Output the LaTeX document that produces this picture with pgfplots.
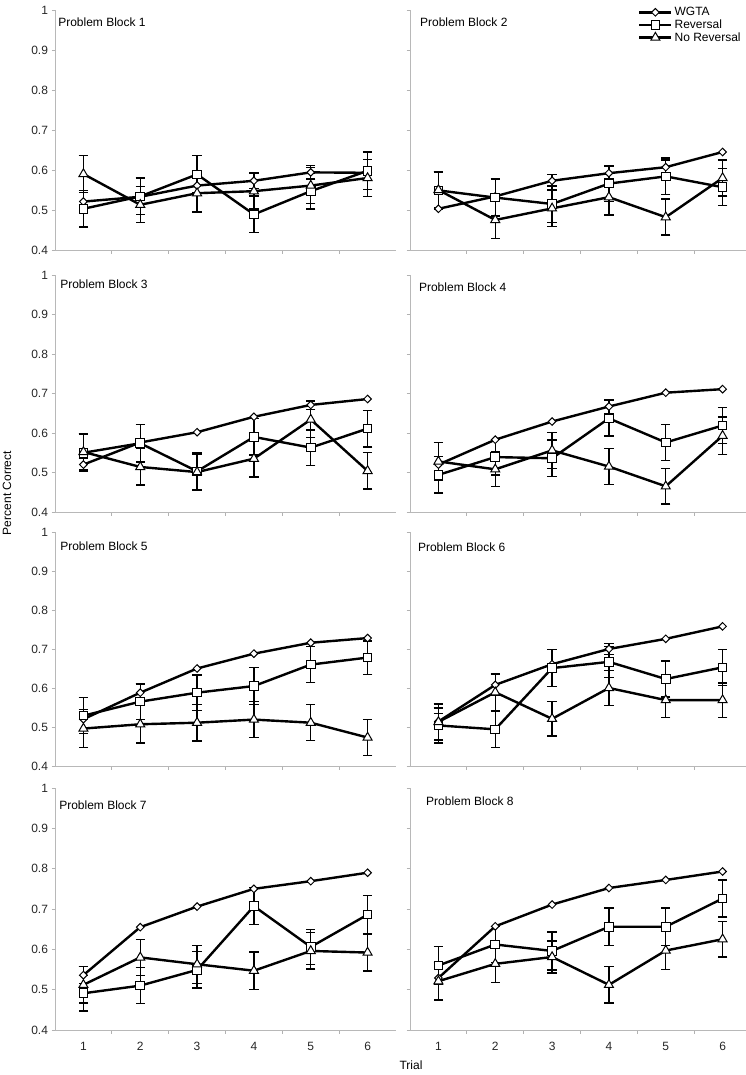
\documentclass[border=0pt]{standalone}
\usepackage{fontspec}
\setmainfont{Liberation Sans}
\usepackage{pgfplots}
\pgfplotsset{compat=1.18}
\newcommand{\lab}{\fontsize{12}{14}\selectfont}
\pgfplotsset{
  panel/.style={
    scale only axis, width=341pt,
    xmin=0.5, xmax=6.5, ymin=0.4, ymax=1,
    axis x line=bottom, axis y line=left,
    axis line style={-, draw=black!28, line width=0.8pt},
    xtick={1,2,3,4,5,6}, xticklabels={},
    minor xtick={1.5,2.5,3.5,4.5,5.5},
    ytick={0.4,0.5,0.6,0.7,0.8,0.9,1},
    yticklabels={},
    tick align=outside,
    major tick length=3.5pt, minor tick length=4pt,
    tick style={draw=black!30, line width=0.7pt},
    major x tick style={draw=none},
    minor tick style={draw=black!30, line width=0.7pt},
    ticklabel style={font=\lab, text=black!85},
    /pgf/number format/assume math mode=true,
    clip=false,
    legend image code/.code={\draw[mark repeat=2,mark phase=2,##1] plot coordinates {(0pt,0pt) (16pt,0pt) (32pt,0pt)};},
  },
  leftcol/.style={yticklabels={0.4,0.5,0.6,0.7,0.8,0.9,1}},
  bottomrow/.style={xticklabels={1,2,3,4,5,6}, xticklabel style={yshift=-5pt}},
  errb/.style={error bars/.cd, y dir=both, y explicit,
    error bar style={line width=1.4pt, black, solid},
    error mark options={rotate=90, mark size=4.7pt, line width=1.4pt, black}},
  sW/.style={black, line width=2.4pt, mark=square*, mark size=2.7pt,
    mark options={rotate=45, solid, fill=white, draw=black, line width=1pt}},
  sR/.style={black, line width=2.4pt, mark=square*, mark size=4.3pt,
    mark options={solid, fill=white, draw=black, line width=1pt}},
  sN/.style={black, line width=2.4pt, mark=triangle*, mark size=5.2pt,
    mark options={solid, fill=white, draw=black, line width=1pt}},
  eW/.style={only marks, mark=none, forget plot, errb},
}
\begin{document}
\begin{tikzpicture}
\useasboundingbox (0pt,0pt) rectangle (745pt,1075pt);

% ---------------- Problem Block 1 ----------------
\begin{axis}[panel, leftcol, at={(55pt,825pt)}, anchor=south west, height=240pt]
\addplot[eW] table[y error=e] {
x y e
4 0.573 0.02
5 0.594 0.017
};
\addplot[sW] table {
x y
1 0.521
2 0.533
3 0.561
4 0.573
5 0.594
6 0.593
};
\addplot[sR, errb] table[y error=e] {
x y e
1 0.503 0.046
2 0.534 0.046
3 0.589 0.047
4 0.489 0.046
5 0.547 0.045
6 0.598 0.047
};
\addplot[sN, errb] table[y error=e] {
x y e
1 0.590 0.046
2 0.513 0.045
3 0.542 0.047
4 0.547 0.045
5 0.561 0.045
6 0.580 0.046
};
\node[anchor=west, inner sep=0pt, font=\lab] at (rel axis cs:0.009,0.948) {Problem Block 1};
\end{axis}

% ---------------- Problem Block 2 ----------------
\begin{axis}[panel, at={(410pt,825pt)}, anchor=south west, height=240pt,
  legend style={at={(0.976,1.02)}, anchor=north east, draw=none, fill=none,
    font=\lab, row sep=-1.5pt, inner sep=0pt, cells={anchor=west}}]
\addplot[eW] table[y error=e] {
x y e
3 0.573 0.015
4 0.592 0.018
5 0.607 0.018
};
\addplot[sW] table {
x y
1 0.503
2 0.534
3 0.573
4 0.592
5 0.607
6 0.645
};
\addlegendentry{WGTA}
\addplot[sR, errb] table[y error=e] {
x y e
1 0.549 0.047
2 0.531 0.046
3 0.515 0.046
4 0.566 0.045
5 0.584 0.046
6 0.557 0.046
};
\addlegendentry{Reversal}
\addplot[sN, errb] table[y error=e] {
x y e
1 0.550 0.045
2 0.475 0.047
3 0.504 0.046
4 0.532 0.045
5 0.482 0.045
6 0.580 0.045
};
\addlegendentry{No Reversal}
\node[anchor=west, inner sep=0pt, font=\lab] at (rel axis cs:0.029,0.948) {Problem Block 2};
\end{axis}

% ---------------- Problem Block 3 ----------------
\begin{axis}[panel, leftcol, at={(55pt,563pt)}, anchor=south west, height=237pt]
\addplot[eW] table[y error=e] {
x y e
1 0.520 0.015
5 0.671 0.012
};
\addplot[sW] table {
x y
1 0.520
2 0.576
3 0.602
4 0.641
5 0.671
6 0.686
};
\addplot[sR, errb] table[y error=e] {
x y e
1 0.550 0.047
2 0.574 0.047
3 0.503 0.046
4 0.590 0.046
5 0.563 0.045
6 0.611 0.046
};
\addplot[sN, errb] table[y error=e] {
x y e
1 0.552 0.045
2 0.514 0.046
3 0.501 0.046
4 0.535 0.046
5 0.634 0.046
6 0.504 0.046
};
\node[anchor=west, inner sep=0pt, font=\lab] at (rel axis cs:0.015,0.962) {Problem Block 3};
\end{axis}

% ---------------- Problem Block 4 ----------------
\begin{axis}[panel, at={(410pt,563pt)}, anchor=south west, height=237pt]
\addplot[eW] table[y error=e] {
x y e
4 0.667 0.018
};
\addplot[sW] table {
x y
1 0.520
2 0.583
3 0.629
4 0.667
5 0.702
6 0.711
};
\addplot[sR, errb] table[y error=e] {
x y e
1 0.494 0.046
2 0.539 0.045
3 0.536 0.046
4 0.637 0.045
5 0.576 0.046
6 0.619 0.046
};
\addplot[sN, errb] table[y error=e] {
x y e
1 0.528 0.048
2 0.508 0.044
3 0.556 0.046
4 0.515 0.046
5 0.465 0.045
6 0.593 0.047
};
\node[anchor=west, inner sep=0pt, font=\lab] at (rel axis cs:0.026,0.947) {Problem Block 4};
\end{axis}

% ---------------- Problem Block 5 ----------------
\begin{axis}[panel, leftcol, at={(55pt,309pt)}, anchor=south west, height=234pt]
\addplot[eW] table[y error=e] {
x y e
2 0.588 0.022
};
\addplot[sW] table {
x y
1 0.520
2 0.588
3 0.650
4 0.688
5 0.716
6 0.728
};
\addplot[sR, errb] table[y error=e] {
x y e
1 0.529 0.046
2 0.565 0.046
3 0.588 0.045
4 0.605 0.047
5 0.660 0.046
6 0.678 0.043
};
\addplot[sN, errb] table[y error=e] {
x y e
1 0.496 0.049
2 0.507 0.048
3 0.511 0.047
4 0.519 0.046
5 0.511 0.046
6 0.473 0.046
};
\node[anchor=west, inner sep=0pt, font=\lab] at (rel axis cs:0.015,0.940) {Problem Block 5};
\end{axis}

% ---------------- Problem Block 6 ----------------
\begin{axis}[panel, at={(410pt,309pt)}, anchor=south west, height=234pt]
\addplot[eW] table[y error=e] {
x y e
1 0.514 0.020
2 0.608 0.026
4 0.700 0.014
};
\addplot[sW] table {
x y
1 0.514
2 0.608
3 0.661
4 0.700
5 0.726
6 0.758
};
\addplot[sR, errb] table[y error=e] {
x y e
1 0.504 0.045
2 0.494 0.047
3 0.651 0.047
4 0.667 0.040
5 0.623 0.046
6 0.653 0.046
};
\addplot[sN, errb] table[y error=e] {
x y e
1 0.513 0.046
2 0.589 0.048
3 0.521 0.044
4 0.600 0.045
5 0.569 0.044
6 0.569 0.044
};
\node[anchor=west, inner sep=0pt, font=\lab] at (rel axis cs:0.023,0.936) {Problem Block 6};
\end{axis}

% ---------------- Problem Block 7 ----------------
\begin{axis}[panel, leftcol, bottomrow, at={(55pt,45pt)}, anchor=south west, height=242pt]
\addplot[eW] table[y error=e] {
x y e
1 0.536 0.021
};
\addplot[sW] table {
x y
1 0.536
2 0.655
3 0.706
4 0.750
5 0.769
6 0.790
};
\addplot[sR, errb] table[y error=e] {
x y e
1 0.491 0.044
2 0.510 0.045
3 0.549 0.045
4 0.707 0.046
5 0.606 0.043
6 0.686 0.047
};
\addplot[sN, errb] table[y error=e] {
x y e
1 0.512 0.045
2 0.580 0.045
3 0.563 0.047
4 0.547 0.046
5 0.596 0.045
6 0.592 0.046
};
\node[anchor=west, inner sep=0pt, font=\lab] at (rel axis cs:0.012,0.930) {Problem Block 7};
\end{axis}

% ---------------- Problem Block 8 ----------------
\begin{axis}[panel, bottomrow, at={(410pt,45pt)}, anchor=south west, height=242pt]
\addplot[sW] table {
x y
1 0.529
2 0.657
3 0.711
4 0.752
5 0.772
6 0.793
};
\addplot[sR, errb] table[y error=e] {
x y e
1 0.560 0.047
2 0.612 0.045
3 0.596 0.047
4 0.656 0.046
5 0.656 0.046
6 0.726 0.046
};
\addplot[sN, errb] table[y error=e] {
x y e
1 0.521 0.047
2 0.564 0.046
3 0.581 0.040
4 0.512 0.045
5 0.597 0.047
6 0.625 0.044
};
\node[anchor=west, inner sep=0pt, font=\lab] at (rel axis cs:0.047,0.946) {Problem Block 8};
\end{axis}

\node[rotate=90, font=\lab, inner sep=0pt] at (7pt,582pt) {Percent Correct};
\node[font=\lab, inner sep=0pt] at (411pt,10pt) {Trial};
\end{tikzpicture}
\end{document}
